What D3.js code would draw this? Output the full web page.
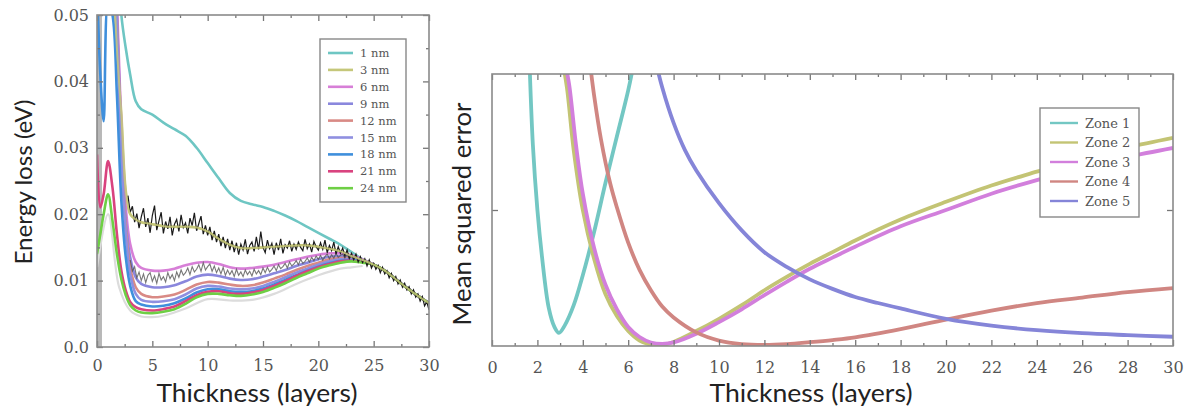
<!DOCTYPE html>
<html><head><meta charset="utf-8">
<script src="https://cdn.jsdelivr.net/npm/d3@7"></script>
<style>
body{margin:0;background:#fff;}
svg{display:block;}
.tick text{font-family:"DejaVu Serif",serif;fill:#555;}
</style></head>
<body><svg id="c" width="1192" height="412"></svg>
<script>
// ---------- LEFT PANEL DATA ----------
const gridX = [0,0.3,0.6,1,1.4,1.8,2.2,2.6,3,3.5,4,5,6,7,8,9,10,11,12,13,14,15,16,17,18,19,20,21,22,23,24,25,26,27,28,29,30];
const thicknessLabels = ["1 nm","3 nm","6 nm","9 nm","12 nm","15 nm","18 nm","21 nm","24 nm"];
const thicknessColors = ["#6ec6c3","#c5c77a","#d77fd7","#8a87dd","#d98a85","#8f8fe0","#3f8fdc","#d9437f","#6ecf45"];
const loss1nm  = [0.09,0.09,0.09,0.085,0.075,0.062,0.05,0.045,0.041,0.037,0.0358,0.0350,0.0338,0.0328,0.0318,0.0300,0.0277,0.0254,0.0232,0.0220,0.0215,0.0211,0.0205,0.0198,0.0190,0.0181,0.0172,0.0163,0.0154,0.0143,0.0132,0.0124,0.0115,0.0102,0.0089,0.0077,0.0066];
const loss3nm  = [0.09,0.09,0.09,0.085,0.06,0.045,0.035,0.0235,0.0200,0.0192,0.0188,0.0185,0.0182,0.0181,0.0181,0.0180,0.0174,0.0163,0.0154,0.0149,0.0149,0.0150,0.0151,0.0152,0.0153,0.0153,0.0151,0.0148,0.0144,0.0137,0.0131,0.0124,0.0115,0.0102,0.0089,0.0077,0.0066];
const loss6nm  = [0.09,0.09,0.09,0.09,0.08,0.052,0.033,0.021,0.0155,0.0128,0.0119,0.0115,0.0115,0.0118,0.0123,0.0127,0.0128,0.0125,0.0120,0.0118,0.0119,0.0121,0.0124,0.0128,0.0132,0.0136,0.0139,0.0141,0.0141,0.0138,0.0132,0.0124,0.0115,0.0102,0.0089,0.0077,0.0066];
const loss9nm  = [0.09,0.09,0.09,0.09,0.078,0.050,0.031,0.019,0.0135,0.0105,0.0095,0.0090,0.0090,0.0093,0.0099,0.0106,0.0109,0.0107,0.0103,0.0101,0.0102,0.0106,0.0111,0.0116,0.0122,0.0127,0.0132,0.0136,0.0137,0.0136,0.0131,0.0124,0.0115,0.0102,0.0089,0.0077,0.0066];
const loss12nm = [0.09,0.09,0.09,0.09,0.076,0.049,0.030,0.018,0.0120,0.0090,0.0080,0.0075,0.0076,0.0079,0.0086,0.0094,0.0098,0.0097,0.0094,0.0092,0.0093,0.0097,0.0103,0.0109,0.0116,0.0122,0.0127,0.0132,0.0134,0.0134,0.0130,0.0124,0.0115,0.0102,0.0089,0.0077,0.0066];
const loss15nm = [0.09,0.09,0.09,0.09,0.074,0.048,0.029,0.017,0.0110,0.0080,0.0071,0.0068,0.0069,0.0072,0.0079,0.0088,0.0092,0.0091,0.0088,0.0087,0.0088,0.0092,0.0098,0.0105,0.0112,0.0118,0.0124,0.0129,0.0132,0.0132,0.0129,0.0124,0.0115,0.0102,0.0089,0.0077,0.0066];
const loss18nm = [0.055,0.041,0.034,0.052,0.050,0.038,0.022,0.0135,0.0092,0.0069,0.0064,0.0061,0.0062,0.0066,0.0073,0.0082,0.0087,0.0087,0.0084,0.0083,0.0084,0.0088,0.0094,0.0101,0.0108,0.0115,0.0121,0.0126,0.0130,0.0131,0.0128,0.0124,0.0115,0.0102,0.0089,0.0077,0.0066];
const loss21nm = [0.029,0.021,0.023,0.028,0.024,0.017,0.0115,0.0085,0.0068,0.0060,0.0057,0.0055,0.0057,0.0061,0.0069,0.0078,0.0083,0.0084,0.0081,0.0080,0.0082,0.0086,0.0092,0.0099,0.0107,0.0114,0.0120,0.0125,0.0129,0.0130,0.0128,0.0124,0.0115,0.0102,0.0089,0.0077,0.0066];
const loss24nm = [0.014,0.017,0.020,0.023,0.019,0.014,0.0102,0.0078,0.0063,0.0055,0.0052,0.0051,0.0053,0.0057,0.0065,0.0075,0.0080,0.0080,0.0078,0.0077,0.0079,0.0083,0.0089,0.0096,0.0104,0.0111,0.0118,0.0123,0.0127,0.0129,0.0127,0.0124,0.0115,0.0102,0.0089,0.0077,0.0066];
const lossSeries = [loss1nm,loss3nm,loss6nm,loss9nm,loss12nm,loss15nm,loss18nm,loss21nm,loss24nm];

// faint grey reference curve below the bundle
const faintX = [0,1,2,3,4,5,6,8,10,12,14,16,18,20,22,23,24];
const faintY = [0.012,0.020,0.009,0.0055,0.0046,0.0045,0.0047,0.0058,0.0072,0.0070,0.0071,0.0080,0.0095,0.0108,0.0118,0.0120,0.0122];

// noisy measured data (black), x from 2.8 step 0.2
const measuredStart = 2.8, measuredStep = 0.2;
const measured = [
0.0228,0.0203,0.0212,0.0188,0.0201,0.0179,0.0196,
0.0209,0.0181,0.0194,0.0172,0.0198,
0.0213,0.0176,0.0190,0.0203,0.0171,
0.0189,0.0178,0.0196,0.0168,0.0185,
0.0192,0.0174,0.0199,0.0180,0.0187,
0.0171,0.0194,0.0183,0.0202,0.0175,
0.0186,0.0197,0.0170,0.0183,0.0168,
0.0181,0.0161,0.0175,0.0158,0.0170,
0.0152,0.0166,0.0149,0.0163,0.0146,
0.0160,0.0143,0.0157,0.0139,0.0155,
0.0146,0.0162,0.0140,0.0153,0.0158,
0.0144,0.0166,0.0147,0.0174,0.0150,
0.0142,0.0161,0.0148,0.0156,0.0139,
0.0157,0.0146,0.0163,0.0141,0.0154,
0.0149,0.0160,0.0144,0.0155,0.0147,
0.0158,0.0150,0.0145,0.0162,0.0148,
0.0155,0.0143,0.0159,0.0151,0.0146,
0.0157,0.0147,0.0161,0.0142,0.0153,
0.0145,0.0158,0.0140,0.0151,0.0141,
0.0149,0.0137,0.0146,0.0134,0.0141,
0.0132,0.0140,0.0128,0.0136,0.0127,
0.0133,0.0122,0.0131,0.0119,0.0126,
0.0117,0.0123,0.0112,0.0120,0.0110,
0.0115,0.0104,0.0111,0.0100,0.0106,
0.0095,0.0101,0.0090,0.0096,0.0086,
0.0091,0.0080,0.0086,0.0075,0.0080,
0.0069,0.0076,0.0062,0.0068,0.0056];
// noisy measured data (grey), x from 3 step 0.2
const measured2Start = 3, measured2Step = 0.2;
const measured2 = [
0.0131,0.0114,0.0121,0.0104,0.0113,0.0100,
0.0110,0.0097,0.0108,0.0112,0.0099,
0.0107,0.0096,0.0111,0.0101,0.0106,
0.0098,0.0112,0.0103,0.0109,0.0100,
0.0113,0.0105,0.0116,0.0108,0.0112,
0.0119,0.0109,0.0121,0.0113,0.0117,
0.0124,0.0114,0.0127,0.0116,0.0121,
0.0125,0.0114,0.0122,0.0112,0.0119,
0.0110,0.0120,0.0108,0.0116,0.0109,
0.0115,0.0106,0.0117,0.0108,0.0113,
0.0106,0.0116,0.0109,0.0114,0.0107,
0.0117,0.0110,0.0115,0.0109,0.0119,
0.0112,0.0120,0.0113,0.0117,0.0122,
0.0115,0.0124,0.0118,0.0121,0.0126,
0.0119,0.0128,0.0122,0.0125,0.0130,
0.0124,0.0132,0.0126,0.0129,0.0134,
0.0128,0.0135,0.0130,0.0137,0.0132,
0.0138,0.0131,0.0136,0.0140,0.0133,
0.0139,0.0134,0.0141,0.0135,0.0138,
0.0140,0.0134,0.0139,0.0133,0.0137,
0.0131,0.0136,0.0130,0.0133,0.0129];
const edgeBand = [0, 0.45];

const leftXTicks = [0,5,10,15,20,25,30];
const leftXMinor = [2.5,7.5,12.5,17.5,22.5,27.5];
const leftYTicks = [0,0.01,0.02,0.03,0.04,0.05];
const leftYTickLabels = ["0.0","0.01","0.02","0.03","0.04","0.05"];
const leftYMinor = [0.005,0.015,0.025,0.035,0.045];

// ---------- RIGHT PANEL DATA ----------
const zoneLabels = ["Zone 1","Zone 2","Zone 3","Zone 4","Zone 5"];
const zoneColors = ["#73c7c3","#c3c474","#d27fdc","#d08682","#8585d8"];
const zone1X = [1.65,1.8,2.0,2.2,2.5,2.75,2.95,3.2,3.6,4.0,4.5,5.0,5.5,6.0,6.2];
const zone1Y = [1.05,0.74,0.50,0.33,0.14,0.07,0.048,0.075,0.15,0.26,0.42,0.60,0.77,0.94,1.02];
const zone2X = [3.1,3.3,3.6,4.0,4.5,5.0,5.5,6.0,6.5,7.0,7.5,8.0,9,10,11,12,13,14,15,16,18,20,22,24,26,28,30];
const zone2Y = [1.05,0.95,0.72,0.50,0.32,0.19,0.11,0.055,0.02,0.005,0.004,0.015,0.055,0.10,0.15,0.205,0.255,0.302,0.345,0.388,0.465,0.53,0.59,0.641,0.69,0.73,0.765];
const zone3X = [3.2,3.4,3.7,4.0,4.5,5.0,5.5,6.0,6.5,7.0,7.5,8.0,9,10,11,12,13,14,15,16,18,20,22,24,26,28,30];
const zone3Y = [1.05,0.96,0.74,0.56,0.36,0.225,0.135,0.07,0.033,0.013,0.008,0.013,0.045,0.088,0.135,0.187,0.237,0.284,0.325,0.365,0.44,0.50,0.56,0.61,0.655,0.695,0.728];
const zone4X = [4.3,4.5,4.8,5.2,5.5,6.0,6.5,7.0,7.5,8.0,9,10,11,12,13,14,15,16,18,20,22,24,26,28,30];
const zone4Y = [1.05,0.92,0.76,0.60,0.51,0.38,0.28,0.205,0.145,0.105,0.05,0.02,0.007,0.004,0.007,0.014,0.022,0.032,0.062,0.097,0.13,0.158,0.178,0.198,0.213];
const zone5X = [7.2,7.5,8.0,8.5,9,10,11,12,13,14,15,16,17,18,20,22,24,26,28,30];
const zone5Y = [1.05,0.95,0.82,0.72,0.645,0.525,0.425,0.345,0.29,0.245,0.21,0.18,0.158,0.138,0.10,0.075,0.058,0.047,0.04,0.034];
const zonesX = [zone1X,zone2X,zone3X,zone4X,zone5X];
const zonesY = [zone1Y,zone2Y,zone3Y,zone4Y,zone5Y];

const rightXTicks = [0,2,4,6,8,10,12,14,16,18,20,22,24,26,28,30];
const rightXMinor = [1,3,5,7,9,11,13,15,17,19,21,23,25,27,29];
const rightYTicks = [0.5];

// ---------- DRAW ----------
const svg = d3.select("#c");
const defs = svg.append("defs");

function frameAxes(g, x, y, xMajor, xMinor, yMajor, yMinor, xFmt, yFmt, xPad, yPad, fs){
  const [x0,x1] = x.range(), [y0,y1] = y.range();
  const mk = (axis, tr) => {
    const a = g.append("g").attr("transform", tr).call(axis);
    a.select(".domain").remove();
    a.selectAll("line").attr("stroke","#777").attr("stroke-width",1.3);
    a.selectAll("text").style("font-size", fs+"px");
    return a;
  };
  mk(d3.axisBottom(x).tickValues(xMajor).tickSize(-6).tickPadding(xPad).tickFormat(xFmt), `translate(0,${y0})`);
  mk(d3.axisBottom(x).tickValues(xMinor).tickSize(-3).tickFormat(""), `translate(0,${y0})`);
  mk(d3.axisTop(x).tickValues(xMajor).tickSize(-6).tickFormat(""), `translate(0,${y1})`);
  mk(d3.axisTop(x).tickValues(xMinor).tickSize(-3).tickFormat(""), `translate(0,${y1})`);
  mk(d3.axisLeft(y).tickValues(yMajor).tickSize(-6).tickPadding(yPad).tickFormat(yFmt), `translate(${x0},0)`);
  mk(d3.axisRight(y).tickValues(yMajor).tickSize(-6).tickFormat(""), `translate(${x1},0)`);
  if (yMinor.length){
    mk(d3.axisLeft(y).tickValues(yMinor).tickSize(-3).tickFormat(""), `translate(${x0},0)`);
    mk(d3.axisRight(y).tickValues(yMinor).tickSize(-3).tickFormat(""), `translate(${x1},0)`);
  }
  g.append("rect").attr("x",x0).attr("y",y1).attr("width",x1-x0).attr("height",y0-y1)
    .attr("fill","none").attr("stroke","#8a8a8a").attr("stroke-width",1.6);
}

function title(x, y, rot, size, len, txt){
  svg.append("text").attr("transform",`translate(${x},${y}) rotate(${rot})`).attr("text-anchor","middle")
    .attr("textLength",len).attr("lengthAdjust","spacingAndGlyphs")
    .style("font-family","Lato, sans-serif").style("font-size",size+"px").attr("fill","#222").text(txt);
}

// Left panel
const xL = d3.scaleLinear().domain([0,30]).range([97,429]);
const yL = d3.scaleLinear().domain([0,0.05]).range([347,15]);
defs.append("clipPath").attr("id","clipL").append("rect")
  .attr("x",97).attr("y",15).attr("width",332).attr("height",332);
const gL = svg.append("g");
const pL = gL.append("g").attr("clip-path","url(#clipL)");
const smooth = d3.line().curve(d3.curveCatmullRom.alpha(0.5));

pL.append("rect").attr("x",xL(edgeBand[0])).attr("y",yL(0.05)).attr("width",xL(edgeBand[1])-xL(edgeBand[0]))
  .attr("height",yL(0)-yL(0.05)).attr("fill","#9a9a9a").attr("opacity",0.7);

pL.append("path").attr("d", smooth(faintX.map((v,i)=>[xL(v),yL(faintY[i])])))
  .attr("fill","none").attr("stroke","#dcdcdc").attr("stroke-width",2.2);

lossSeries.forEach((s,k)=>{
  pL.append("path").attr("d", smooth(gridX.map((v,i)=>[xL(v),yL(s[i])])))
    .attr("fill","none").attr("stroke",thicknessColors[k]).attr("stroke-width",2.6);
});
pL.append("path").attr("d", d3.line()(measured2.map((v,i)=>[xL(measured2Start+i*measured2Step),yL(v)])))
  .attr("fill","none").attr("stroke","#555").attr("stroke-width",1.1).attr("opacity",0.8);
pL.append("path").attr("d", d3.line()(measured.map((v,i)=>[xL(measuredStart+i*measuredStep),yL(v)])))
  .attr("fill","none").attr("stroke","#1a1a1a").attr("stroke-width",1.2);
pL.append("path").attr("d", smooth(gridX.map((v,i)=>[xL(v),yL(loss3nm[i])])))
  .attr("fill","none").attr("stroke",thicknessColors[1]).attr("stroke-width",2).attr("opacity",0.85);

frameAxes(gL, xL, yL, leftXTicks, leftXMinor, leftYTicks, leftYMinor,
  d=>String(d), (d,i)=>leftYTickLabels[i], 13, 8, 16);

const legL = gL.append("g");
legL.append("rect").attr("x",320).attr("y",39).attr("width",86).attr("height",163)
  .attr("fill","#fff").attr("stroke","#888").attr("stroke-width",1.4);
thicknessLabels.forEach((t,i)=>{
  const yy = 53 + i*16.9;
  legL.append("line").attr("x1",328).attr("x2",353).attr("y1",yy).attr("y2",yy)
    .attr("stroke",thicknessColors[i]).attr("stroke-width",2.6);
  legL.append("text").attr("x",360).attr("y",yy).attr("dy","0.35em").text(t)
    .style("font-family","'DejaVu Serif',serif").style("font-size","11.5px").attr("fill","#555");
});

title(257, 402, 0, 25, 201, "Thickness (layers)");
title(32, 182, -90, 23, 165, "Energy loss (eV)");

// Right panel
const xR = d3.scaleLinear().domain([0,30]).range([492,1173]);
const yR = d3.scaleLinear().domain([0,1]).range([346,74]);
defs.append("clipPath").attr("id","clipR").append("rect")
  .attr("x",492).attr("y",74).attr("width",681).attr("height",272);
const gR = svg.append("g");
const pR = gR.append("g").attr("clip-path","url(#clipR)");
zonesX.forEach((xs,k)=>{
  pR.append("path").attr("d", smooth(xs.map((v,i)=>[xR(v),yR(zonesY[k][i])])))
    .attr("fill","none").attr("stroke",zoneColors[k]).attr("stroke-width",3.8);
});
frameAxes(gR, xR, yR, rightXTicks, rightXMinor, rightYTicks, [],
  d=>String(d), ()=> "", 16, 8, 16);

const legR = gR.append("g");
legR.append("rect").attr("x",1040).attr("y",108).attr("width",99).attr("height",109)
  .attr("fill","#fff").attr("stroke","#888").attr("stroke-width",1.4);
zoneLabels.forEach((t,i)=>{
  const yy = 123 + i*19.5;
  legR.append("line").attr("x1",1050).attr("x2",1078).attr("y1",yy).attr("y2",yy)
    .attr("stroke",zoneColors[i]).attr("stroke-width",2.4);
  legR.append("text").attr("x",1085).attr("y",yy).attr("dy","0.35em").text(t)
    .style("font-family","'DejaVu Serif',serif").style("font-size","13px").attr("fill","#555");
});

title(811, 402, 0, 25, 203, "Thickness (layers)");
title(471, 214, -90, 24.5, 223, "Mean squared error");
</script></body></html>
